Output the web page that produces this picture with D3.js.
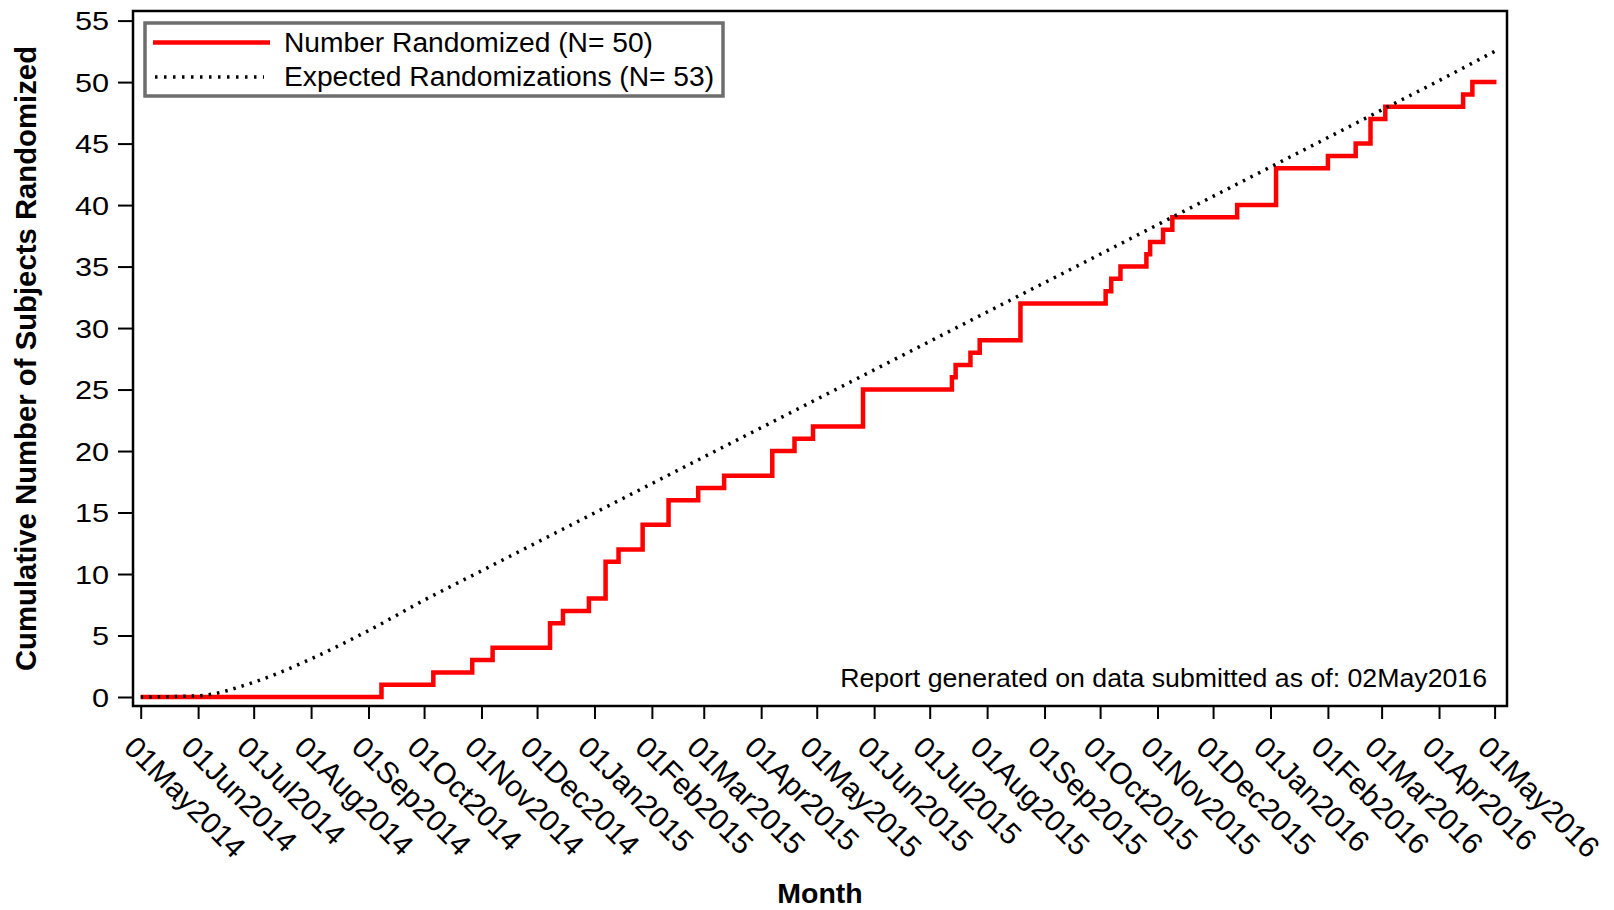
<!DOCTYPE html>
<html>
<head>
<meta charset="utf-8">
<script src="https://cdn.jsdelivr.net/npm/d3@7"></script>
<style>
  body { margin: 0; background: #fff; }
  text { font-family: "Liberation Sans", Arial, sans-serif; fill: #000; }
</style>
</head>
<body>
<svg id="SVG_CONTAINER" width="1614" height="910"></svg>
<script>
// Randomized subjects (cumulative), step dates and counts
const stepDates = ["2014-05-01","2014-09-08","2014-10-06","2014-10-27","2014-11-07","2014-12-08","2014-12-15",
  "2014-12-29","2015-01-07","2015-01-14","2015-01-27","2015-02-10","2015-02-26","2015-03-12","2015-04-07",
  "2015-04-19","2015-04-29","2015-05-26","2015-07-13","2015-07-15","2015-07-23","2015-07-28","2015-08-19",
  "2015-10-04","2015-10-07","2015-10-12","2015-10-26","2015-10-28","2015-11-04","2015-11-09","2015-12-14",
  "2016-01-04","2016-02-01","2016-02-16","2016-02-24","2016-03-03","2016-04-14","2016-04-19","2016-05-02"];
const stepCounts = [0,1,2,3,4,6,7,8,11,12,14,16,17,18,20,21,22,25,26,27,28,29,32,33,34,35,36,37,38,39,40,
  43,44,45,47,48,49,50,50];

// Expected randomizations, first of each month
const expDates = ["2014-05-01","2014-06-01","2014-07-01","2014-08-01","2014-09-01","2014-10-01","2014-11-01",
  "2014-12-01","2015-01-01","2015-02-01","2015-03-01","2015-04-01","2015-05-01","2015-06-01","2015-07-01",
  "2015-08-01","2015-09-01","2015-10-01","2015-11-01","2015-12-01","2016-01-01","2016-02-01","2016-03-01",
  "2016-04-01","2016-05-01"];
const expValues = [0,0.1,1.2,3.1,5.4,7.87,10.26,12.57,14.96,17.35,19.51,21.9,24.21,26.6,28.91,31.3,33.69,
  36.0,38.4,40.71,43.1,45.49,47.73,50.12,52.5];

const yTicks = [0,5,10,15,20,25,30,35,40,45,50,55];
const legendLabels = ["Number Randomized (N= 50)", "Expected Randomizations (N= 53)"];
const footNote = "Report generated on data submitted as of: 02May2016";

// frame of the plot area
const FRAME = {"LEFT":133, "RIGHT":1507, "TOP":11, "BOTTOM":706};

let parse = d3.utcParse("%Y-%m-%d");
let svg = d3.select("#SVG_CONTAINER");

let randomized = stepDates.map((d,i) => ({date: parse(d), value: stepCounts[i]}));
let expected = expDates.map((d,i) => ({date: parse(d), value: expValues[i]}));

let xScale = d3.scaleUtc()
    .domain([parse("2014-05-01"), parse("2016-05-01")])
    .range([140.7, 1494.6]);

let yScale = d3.scaleLinear()
    .domain([0, 55])
    .range([697, 20.6]);

// y axis ticks + labels (the original font is drawn a bit wide)
let yAxis = d3.axisLeft(yScale)
    .tickValues(yTicks)
    .tickSize(15)
    .tickPadding(9);
let gy = svg.append("g")
    .attr("transform", "translate(" + FRAME.LEFT + ",0)")
    .call(yAxis);
gy.select(".domain").remove();
gy.selectAll("line").attr("stroke", "#000").attr("stroke-width", 2);
gy.selectAll("text")
    .style("font-size", "26px")
    .attr("x", -24 / 1.18)
    .attr("dy", "0.35em")
    .attr("transform", "scale(1.18,1)");

// x axis, one tick per month
let xAxis = d3.axisBottom(xScale)
    .ticks(d3.utcMonth.every(1))
    .tickFormat(d3.utcFormat("%d%b%Y"))
    .tickSize(13);
let gx = svg.append("g")
    .attr("transform", "translate(0," + FRAME.BOTTOM + ")")
    .call(xAxis);
gx.select(".domain").remove();
gx.selectAll("line").attr("stroke", "#000").attr("stroke-width", 2);
gx.selectAll("text")
    .style("font-size", "30px")
    .attr("text-anchor", "start")
    .attr("x", 0).attr("y", 0).attr("dy", null)
    .attr("transform", "translate(-19,43) rotate(45)");

// plot frame
svg.append("rect")
    .attr("x", FRAME.LEFT)
    .attr("y", FRAME.TOP)
    .attr("width", FRAME.RIGHT - FRAME.LEFT)
    .attr("height", FRAME.BOTTOM - FRAME.TOP)
    .attr("fill", "none")
    .attr("stroke", "#000")
    .attr("stroke-width", 2.5);

// red step line
let stepLine = d3.line()
    .x(d => xScale(d.date))
    .y(d => yScale(d.value))
    .curve(d3.curveStepAfter);
svg.append("path")
    .datum(randomized)
    .attr("d", stepLine)
    .attr("fill", "none")
    .attr("stroke", "#ff0000")
    .attr("stroke-width", 4.5);

// dotted expected line
let expLine = d3.line()
    .x(d => xScale(d.date))
    .y(d => yScale(d.value))
    .curve(d3.curveMonotoneX);
svg.append("path")
    .datum(expected)
    .attr("d", expLine)
    .attr("fill", "none")
    .attr("stroke", "#000")
    .attr("stroke-width", 3.5)
    .attr("stroke-dasharray", "2.5,6");

// legend
let legend = svg.append("g");
legend.append("rect")
    .attr("x", 145).attr("y", 23)
    .attr("width", 578).attr("height", 73)
    .attr("fill", "#fff")
    .attr("stroke", "#6e6e6e")
    .attr("stroke-width", 3.5);
legend.append("line")
    .attr("x1", 153).attr("x2", 270).attr("y1", 42.5).attr("y2", 42.5)
    .attr("stroke", "#ff0000").attr("stroke-width", 4.5);
legend.append("line")
    .attr("x1", 155).attr("x2", 264).attr("y1", 77).attr("y2", 77)
    .attr("stroke", "#000").attr("stroke-width", 3.5)
    .attr("stroke-dasharray", "2.5,6.5");
legend.selectAll("text.leg")
    .data(legendLabels)
    .join("text")
    .attr("class", "leg")
    .attr("x", 284)
    .attr("y", (d,i) => 52 + i*34)
    .style("font-size", "28.2px")
    .text(d => d);

// footnote inside plot
svg.append("text")
    .attr("x", 1487)
    .attr("y", 687)
    .attr("text-anchor", "end")
    .style("font-size", "26.7px")
    .text(footNote);

// axis titles
svg.append("text")
    .attr("x", (FRAME.LEFT + FRAME.RIGHT) / 2)
    .attr("y", 903)
    .attr("text-anchor", "middle")
    .style("font-size", "28.5px")
    .style("font-weight", "bold")
    .text("Month");

svg.append("text")
    .attr("transform", "translate(36," + ((FRAME.TOP + FRAME.BOTTOM) / 2) + ") rotate(-90)")
    .attr("text-anchor", "middle")
    .style("font-size", "29.3px")
    .style("font-weight", "bold")
    .text("Cumulative Number of Subjects Randomized");
</script>
</body>
</html>
